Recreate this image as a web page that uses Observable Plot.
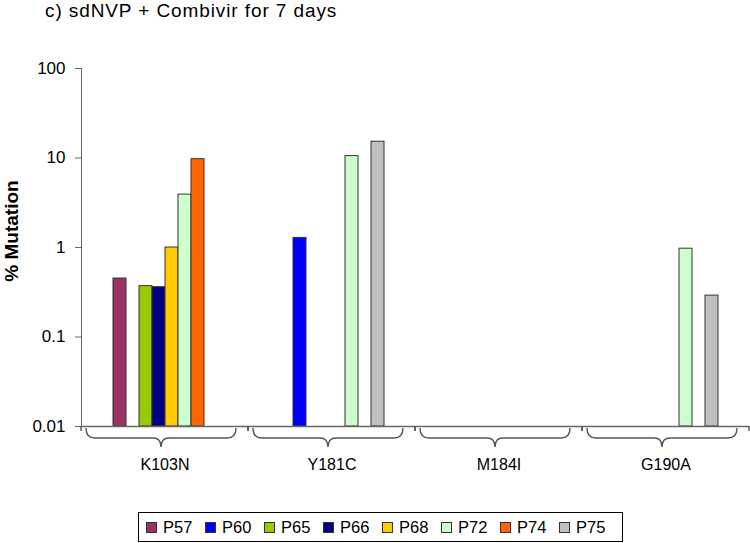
<!DOCTYPE html>
<html><head><meta charset="utf-8">
<script src="https://cdn.jsdelivr.net/npm/d3@7"></script>
<script src="https://cdn.jsdelivr.net/npm/@observablehq/plot@0.6"></script>
<style>
body{margin:0;background:#fff;font-family:Arial,"Liberation Sans",sans-serif;}
#wrap{position:relative;width:750px;height:543px;overflow:hidden;background:#fff}
#chart{position:absolute;left:0;top:0}
#title{position:absolute;left:45px;top:0px;font-size:19px;letter-spacing:0.9px;color:#000;white-space:nowrap}
#ylabel{position:absolute;left:12px;top:231px;transform:translate(-50%,-50%) rotate(-90deg);font-weight:bold;font-size:19px;white-space:nowrap;color:#000}
#legend{position:absolute;left:138px;top:512px;width:485px;height:30px;border:1px solid #000;box-sizing:border-box;display:flex;align-items:center;padding-left:7px;font-size:16.5px;color:#000}
#legend .item{display:flex;align-items:center;width:59px;flex:none}
#legend .sw{width:9px;height:9px;border:1px solid #333;margin-right:6px;flex:none}
svg text{font-family:Arial,"Liberation Sans",sans-serif}
svg [aria-label="y-axis tick"], svg [aria-label="frame"]{color:#666}
</style>
</head><body>
<div id="wrap">
  <div id="chart"></div>
  <div id="title"></div>
  <div id="ylabel"></div>
  <div id="legend"></div>
</div>
<script>
const titleText = "c) sdNVP + Combivir for 7 days";
const yLabel = "% Mutation";
const mutations = ["K103N", "Y181C", "M184I", "G190A"];
const patients = ["P57", "P60", "P65", "P66", "P68", "P72", "P74", "P75"];
const colors = ["#993366", "#0000FF", "#99CC00", "#000080", "#FFCC00", "#CCFFCC", "#FF6600", "#C0C0C0"];
// values per mutation, in patient order (null = no bar)
const k103n = [0.45, null, 0.37, 0.36, 1.0, 3.9, 9.7, null];
const y181c = [null, 1.28, null, null, null, 10.5, null, 15.2];
const m184i = [null, null, null, null, null, null, null, null];
const g190a = [null, null, null, null, null, 0.97, null, 0.29];
const yTicks = [0.01, 0.1, 1, 10, 100];
const yTickLabels = ["0.01", "0.1", "1", "10", "100"];

const series = [k103n, y181c, m184i, g190a];
const rows = [];
mutations.forEach((m, i) => patients.forEach((p, j) => {
  rows.push({mutation: m, patient: p, value: series[i][j]});
}));

document.getElementById("title").textContent = titleText;
document.getElementById("ylabel").textContent = yLabel;

function braces(index, scales, values, dimensions, context) {
  const x = scales.x, y = scales.y;
  let r0, r1;
  if (typeof x.range === "function") { [r0, r1] = x.range(); }
  else {
    const bw = typeof x.bandwidth === "function" ? x.bandwidth() : x.bandwidth;
    r0 = x(patients[0]) - 2.42 * bw; r1 = x(patients[patients.length - 1]) + bw + 2.42 * bw;
  }
  const y0 = y(yTicks[0]);
  const L = r0 + 5, R = r1 - 12, M = (L + R) / 2;
  const yt = y0 + 2, yh = y0 + 12, ytip = y0 + 21;
  const g = d3.create("svg:g");
  g.append("path")
    .attr("fill", "none").attr("stroke", "#555").attr("stroke-width", 1.4)
    .attr("d", `M${L},${yt} Q${L},${yh} ${L + 9},${yh} L${M - 8},${yh} Q${M},${yh} ${M},${ytip} Q${M},${yh} ${M + 8},${yh} L${R - 9},${yh} Q${R},${yh} ${R},${yt}`);
  for (const xx of [r0, r1]) {
    g.append("line").attr("x1", xx).attr("x2", xx).attr("y1", y0).attr("y2", y0 + 5)
      .attr("stroke", "#555").attr("stroke-width", 1.4);
  }
  return g.node();
}

const chart = Plot.plot({
  width: 750,
  height: 500,
  marginLeft: 80,
  marginRight: 1,
  marginTop: 68,
  marginBottom: 74,
  style: {background: "transparent", color: "#000", fontSize: "17px", fontFamily: "Arial, 'Liberation Sans', sans-serif"},
  fx: {domain: mutations, padding: 0, label: null},
  x: {domain: patients, paddingInner: 0, paddingOuter: 2.42, axis: null},
  y: {type: "log", domain: [yTicks[0], yTicks[yTicks.length - 1]], ticks: yTicks,
      tickFormat: d => yTickLabels[yTicks.indexOf(d)], tickSize: 6, tickPadding: 10, label: null, line: true},
  color: {domain: patients, range: colors},
  marks: [
    Plot.barY(rows, {fx: "mutation", x: "patient", y1: yTicks[0], y2: "value", fill: "patient", stroke: "#333", strokeWidth: 1}),
    Plot.ruleY([yTicks[0]], {stroke: "#666", strokeWidth: 1.5}),
    Plot.axisFx({anchor: "bottom", tickSize: 0, tickPadding: 32, fontSize: 16, label: null}),
    braces
  ]
});
document.getElementById("chart").appendChild(chart);

const legend = document.getElementById("legend");
patients.forEach((p, i) => {
  const it = document.createElement("div"); it.className = "item";
  const sw = document.createElement("div"); sw.className = "sw"; sw.style.background = colors[i];
  const t = document.createElement("span"); t.textContent = p;
  it.appendChild(sw); it.appendChild(t); legend.appendChild(it);
});
</script>
</body></html>
